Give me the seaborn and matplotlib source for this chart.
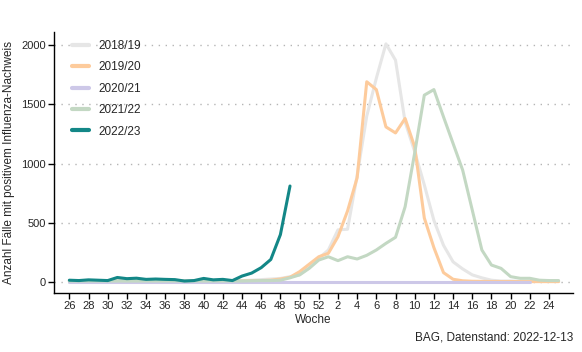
import numpy as np
import pandas as pd
import matplotlib
matplotlib.use("Agg")
import matplotlib.pyplot as plt
import seaborn as sns

# season weeks: 26..52, then 1..25
weeks = list(range(26, 53)) + list(range(1, 26))

s1819 = [10, 10, 10, 10, 10, 10, 10, 10, 10, 10, 10, 10, 10, 10, 10, 10, 10, 10, 12, 15, 20, 25, 30,
         45, 60, 120, 200, 270, 440, 445, 900, 1400, 1720, 2010, 1872, 1350, 1100, 820, 520, 310,
         170, 110, 60, 35, 15, 8, 8, 6, 6, 5, 5, 5]
s1920 = [6, 6, 6, 6, 6, 6, 6, 6, 6, 6, 6, 6, 6, 6, 6, 6, 6, 6, 8, 10, 12, 15, 25,
         40, 87, 150, 213, 242, 382, 600, 880, 1690, 1624, 1309, 1258, 1380, 1140, 540, 290, 79,
         23, 10, 6, 5, 4, 4, 4, 3, 3, 3, 3, 3]
s2021 = [2] * 49
s2122 = [8, 8, 8, 8, 8, 8, 8, 8, 8, 8, 8, 8, 8, 8, 8, 8, 8, 8, 8, 10, 12, 12, 15,
         35, 60, 115, 185, 213, 180, 213, 194, 225, 270, 326, 377, 635, 1090, 1577, 1624, 1394,
         1169, 944, 607, 270, 143, 115, 45, 31, 31, 15, 12, 12]
s2223 = [15, 12, 18, 15, 12, 38, 28, 32, 22, 25, 22, 20, 8, 12, 30, 18, 22, 12, 50, 75, 121,
         190, 400, 810]

seasons = ["2018/19", "2019/20", "2020/21", "2021/22", "2022/23"]
values = [s1819, s1920, s2021, s2122, s2223]
colors = ["#e6e6e6", "#fdcb9c", "#cdc8e8", "#c3d8c3", "#138787"]

rows = []
for name, vals in zip(seasons, values):
    for i, v in enumerate(vals):
        rows.append({"season": name, "pos": i, "week": weeks[i], "cases": v})
df = pd.DataFrame(rows)

sns.set_style("ticks")
plt.rcParams["font.family"] = ["Liberation Sans", "DejaVu Sans"]

fig = plt.figure(figsize=(5.82, 3.52), dpi=100)
ax = fig.add_axes([54 / 582, 1 - 293 / 352, 519 / 582, 261 / 352])

for y in [0, 500, 1000, 1500, 2000]:
    ax.axhline(y, color="#b5b5b5", lw=1, ls=(0, (1, 4)), zorder=0)

sns.lineplot(data=df, x="pos", y="cases", hue="season", hue_order=seasons,
             palette=dict(zip(seasons, colors)), lw=2.2, ax=ax)

tick_pos = list(range(0, 51, 2))
ax.set_xticks(tick_pos)
ax.set_xticklabels([str(weeks[p]) for p in tick_pos], fontsize=8)
ax.set_yticks([0, 500, 1000, 1500, 2000])
ax.set_yticklabels(["0", "500", "1000", "1500", "2000"], fontsize=8)
ax.set_xlim(-1.6, 52.5)
ax.set_ylim(-93, 2110)
ax.tick_params(length=4, width=1, color="black", pad=2)
for sp in ["top", "right"]:
    ax.spines[sp].set_visible(False)
for sp in ["left", "bottom"]:
    ax.spines[sp].set_color("black")
    ax.spines[sp].set_linewidth(1)

ax.set_xlabel("Woche", fontsize=8.5, labelpad=2)
ax.set_ylabel("Anzahl Fälle mit positivem Influenza-Nachweis", fontsize=8.5, labelpad=4)

leg = ax.legend(loc="upper left", bbox_to_anchor=(0.035, 0.97), frameon=False,
                fontsize=8.5, handlelength=1.4, handletextpad=0.85, labelspacing=0.8,
                borderpad=0, borderaxespad=0)
for h in leg.get_lines():
    h.set_linewidth(3)

fig.text(573 / 582, 1 - 340 / 352, "BAG, Datenstand: 2022-12-13", ha="right",
         va="baseline", fontsize=8.5)

fig.savefig("out.png", dpi=100)
